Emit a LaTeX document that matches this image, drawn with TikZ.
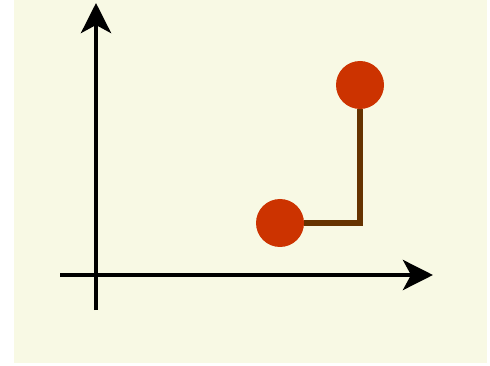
\documentclass[tikz,border=0pt]{standalone}
\usepackage{tikz}
\usetikzlibrary{arrows.meta, positioning}
\definecolor{paperbg}{RGB}{248,249,228}
\definecolor{dotred}{RGB}{204,51,0}
\definecolor{linkbrown}{RGB}{102,51,0}

\begin{document}
\begin{tikzpicture}[
  x=1pt, y=-1pt,
  axis/.style={line width=4.5pt, draw=black, -{Stealth[length=30pt, width=30pt, inset=8pt]}},
  dot/.style={circle, fill=dotred, draw=none, minimum size=48pt, inner sep=0pt},
  link/.style={line width=6pt, draw=linkbrown}
]

% Canvas and background
\useasboundingbox (0,0) rectangle (490,366);
\fill[white] (0,0) rectangle (490,366);
\fill[paperbg] (14,0) rectangle (487,363);

% Axes
\coordinate (ybot) at (96,310);
\coordinate (ytop) at (96,3);
\coordinate (xleft) at (60,275);
\coordinate (xright) at (433,275);
\draw[axis] (ybot) -- (ytop);
\draw[axis] (xleft) -- (xright);

% Points and connector
\node[dot] (low) at (280,223) {};
\node[dot] (high) at (360,85) {};
\draw[link] (low) -| (high);

\end{tikzpicture}
\end{document}
